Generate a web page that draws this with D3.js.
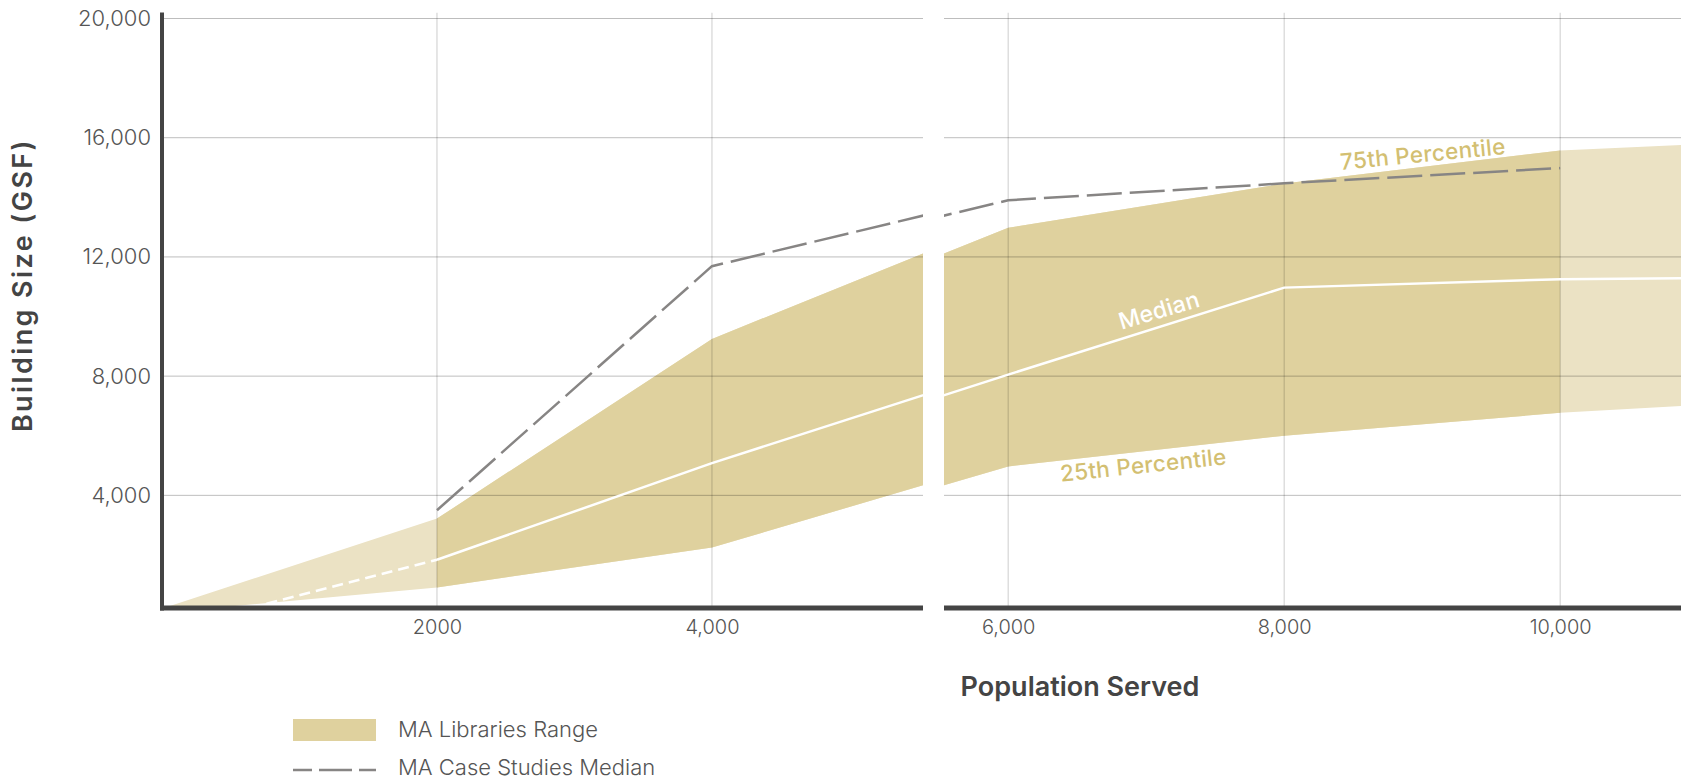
<!DOCTYPE html>
<html>
<head>
<meta charset="utf-8">
<script src="https://cdn.jsdelivr.net/npm/d3@7"></script>
<style>
  html, body { margin: 0; padding: 0; background: #fff; }
  svg { display: block; font-family: "Inter", "Open Sans", sans-serif; }
</style>
</head>
<body>
<svg id="chart" width="1681" height="783"></svg>
<script>
// ---------------- data ----------------
const population = [0, 2000, 4000, 6000, 8000, 10000, 12000];
const p75 = [200, 3220, 9250, 12980, 14460, 15570, 16000];
const p25 = [60, 910, 2250, 4970, 6000, 6770, 7290];
const medianPop = [640, 2000, 4000, 6000, 8000, 10000, 12000];
const medianVal = [220, 1840, 5080, 8050, 10970, 11250, 11330];
const casePop = [2000, 4000, 6000, 8000, 10000];
const caseMedian = [3500, 11690, 13900, 14470, 14980];

const xTicks = [2000, 4000, 6000, 8000, 10000];
const xTickLabels = ["2000", "4,000", "6,000", "8,000", "10,000"];
const yTicks = [4000, 8000, 12000, 16000, 20000];
const yTickLabels = ["4,000", "8,000", "12,000", "16,000", "20,000"];

const breakAt = 5535;
const dark = "#dfd19e", light = "#ebe2c4", gold = "#d3bf72";

// ---------------- scales ----------------
const plotTop = 12.5, plotBottom = 608;
const y = d3.scaleLinear().domain([220, 20000]).range([plotBottom, 18.5]);
const xL = d3.scaleLinear().domain([0, breakAt]).range([162, 923]);
const xR = d3.scaleLinear().domain([breakAt, 12000]).range([944, 944 + (12000 - breakAt) * 0.138]);

const svg = d3.select("#chart");
const defs = svg.append("defs");
defs.append("clipPath").attr("id", "clipL").append("rect")
  .attr("x", 162).attr("y", plotTop).attr("width", 923 - 162).attr("height", plotBottom - plotTop);
defs.append("clipPath").attr("id", "clipR").append("rect")
  .attr("x", 944).attr("y", plotTop).attr("width", 1681 - 944).attr("height", plotBottom - plotTop);

const rows = population.map((p, i) => ({p, hi: p75[i], lo: p25[i]}));
const darkRows = rows.filter(d => d.p >= 2000 && d.p <= 10000);
const medRows = medianPop.map((p, i) => ({p, v: medianVal[i]}));
const caseRows = casePop.map((p, i) => ({p, v: caseMedian[i]}));

function drawSegment(x, clipId, segTicks) {
  const g = svg.append("g").attr("clip-path", `url(#${clipId})`);
  const area = d3.area().x(d => x(d.p)).y0(d => y(d.lo)).y1(d => y(d.hi));
  g.append("path").datum(rows).attr("d", area).attr("fill", light);
  g.append("path").datum(darkRows).attr("d", area).attr("fill", dark);

  // gridlines
  g.selectAll(".hg").data(yTicks).join("line")
    .attr("x1", 0).attr("x2", 1681)
    .attr("y1", d => y(d)).attr("y2", d => y(d))
    .attr("stroke", "rgba(0,0,0,0.26)").attr("stroke-width", 1);
  g.selectAll(".vg").data(segTicks).join("line")
    .attr("x1", d => x(d)).attr("x2", d => x(d))
    .attr("y1", plotTop).attr("y2", plotBottom)
    .attr("stroke", "rgba(0,0,0,0.2)").attr("stroke-width", 1);

  const line = d3.line().x(d => x(d.p)).y(d => y(d.v));
  // median: dashed before 2000, solid afterwards
  g.append("path").datum(medRows.filter(d => d.p <= 2000)).attr("d", line)
    .attr("fill", "none").attr("stroke", "#fff").attr("stroke-width", 2.5)
    .attr("stroke-dasharray", "11,6");
  g.append("path").datum(medRows.filter(d => d.p >= 2000)).attr("d", line)
    .attr("fill", "none").attr("stroke", "#fff").attr("stroke-width", 2.5);
  // case studies median
  g.append("path").datum(caseRows).attr("d", line)
    .attr("fill", "none").attr("stroke", "#878584").attr("stroke-width", 2.5)
    .attr("stroke-dasharray", "35,8");
}
drawSegment(xL, "clipL", xTicks.filter(t => t < breakAt));
drawSegment(xR, "clipR", xTicks.filter(t => t > breakAt));

// ---------------- axes ----------------
const labelFor = (t) => xTickLabels[xTicks.indexOf(t)];
function styleAxis(size) {
  return (g) => {
    g.select(".domain").remove();
    g.selectAll(".tick line").remove();
    g.selectAll(".tick text")
      .attr("font-family", "Inter, 'Open Sans', sans-serif")
      .attr("font-size", size).attr("font-weight", 300).attr("fill", "#555");
  };
}
svg.append("g").attr("transform", `translate(0,${plotBottom + 6})`)
  .call(d3.axisBottom(xL).tickValues(xTicks.filter(t => t < breakAt)).tickFormat(labelFor).tickSize(0).tickPadding(6))
  .call(styleAxis(20));
svg.append("g").attr("transform", `translate(0,${plotBottom + 6})`)
  .call(d3.axisBottom(xR).tickValues(xTicks.filter(t => t > breakAt)).tickFormat(labelFor).tickSize(0).tickPadding(6))
  .call(styleAxis(20));
svg.append("g").attr("transform", "translate(151,0)")
  .call(d3.axisLeft(y).tickValues(yTicks).tickFormat(t => yTickLabels[yTicks.indexOf(t)]).tickSize(0).tickPadding(0))
  .call(styleAxis(22));

// axis lines (broken x axis)
svg.append("line").attr("x1", 162).attr("x2", 162).attr("y1", plotTop).attr("y2", plotBottom + 2.5)
  .attr("stroke", "#444").attr("stroke-width", 4);
svg.append("line").attr("x1", 160).attr("x2", 923).attr("y1", plotBottom).attr("y2", plotBottom)
  .attr("stroke", "#444").attr("stroke-width", 5);
svg.append("line").attr("x1", 944).attr("x2", 1681).attr("y1", plotBottom).attr("y2", plotBottom)
  .attr("stroke", "#444").attr("stroke-width", 5);

// axis titles
svg.append("text").attr("transform", `translate(25,${285}) rotate(-90)`)
  .attr("text-anchor", "middle").attr("dominant-baseline", "middle")
  .attr("font-size", 27).attr("font-weight", 600).attr("fill", "#444")
  .attr("letter-spacing", 2.4)
  .text("Building Size (GSF)");
svg.append("text").attr("x", 1080).attr("y", 689)
  .attr("text-anchor", "middle").attr("dominant-baseline", "middle")
  .attr("font-size", 27).attr("font-weight", 600).attr("fill", "#444")
  .text("Population Served");

// annotations
function note(txt, p, v, angle, color, size) {
  svg.append("text")
    .attr("transform", `translate(${xR(p)},${y(v)}) rotate(${angle})`)
    .attr("text-anchor", "middle")
    .attr("font-size", size).attr("font-weight", 500).attr("fill", color)
    .attr("letter-spacing", 0.3)
    .text(txt);
}
note("75th Percentile", 9010, 15185, -5.5, gold, 22.5);
note("25th Percentile", 6985, 4750, -6, gold, 22.5);
note("Median", 7110, 9950, -16.5, "#fff", 23);

// legend
svg.append("rect").attr("x", 293).attr("y", 719).attr("width", 83).attr("height", 22).attr("fill", dark);
svg.append("text").attr("x", 398).attr("y", 731).attr("dominant-baseline", "middle")
  .attr("font-size", 22).attr("font-weight", 300).attr("fill", "#555").text("MA Libraries Range");
svg.append("line").attr("x1", 293).attr("x2", 376).attr("y1", 770).attr("y2", 770)
  .attr("stroke", "#878584").attr("stroke-width", 2.5)
  .attr("stroke-dasharray", "33,7").attr("stroke-dashoffset", 14);
svg.append("text").attr("x", 398).attr("y", 769).attr("dominant-baseline", "middle")
  .attr("font-size", 22).attr("font-weight", 300).attr("fill", "#555").text("MA Case Studies Median");
</script>
</body>
</html>
